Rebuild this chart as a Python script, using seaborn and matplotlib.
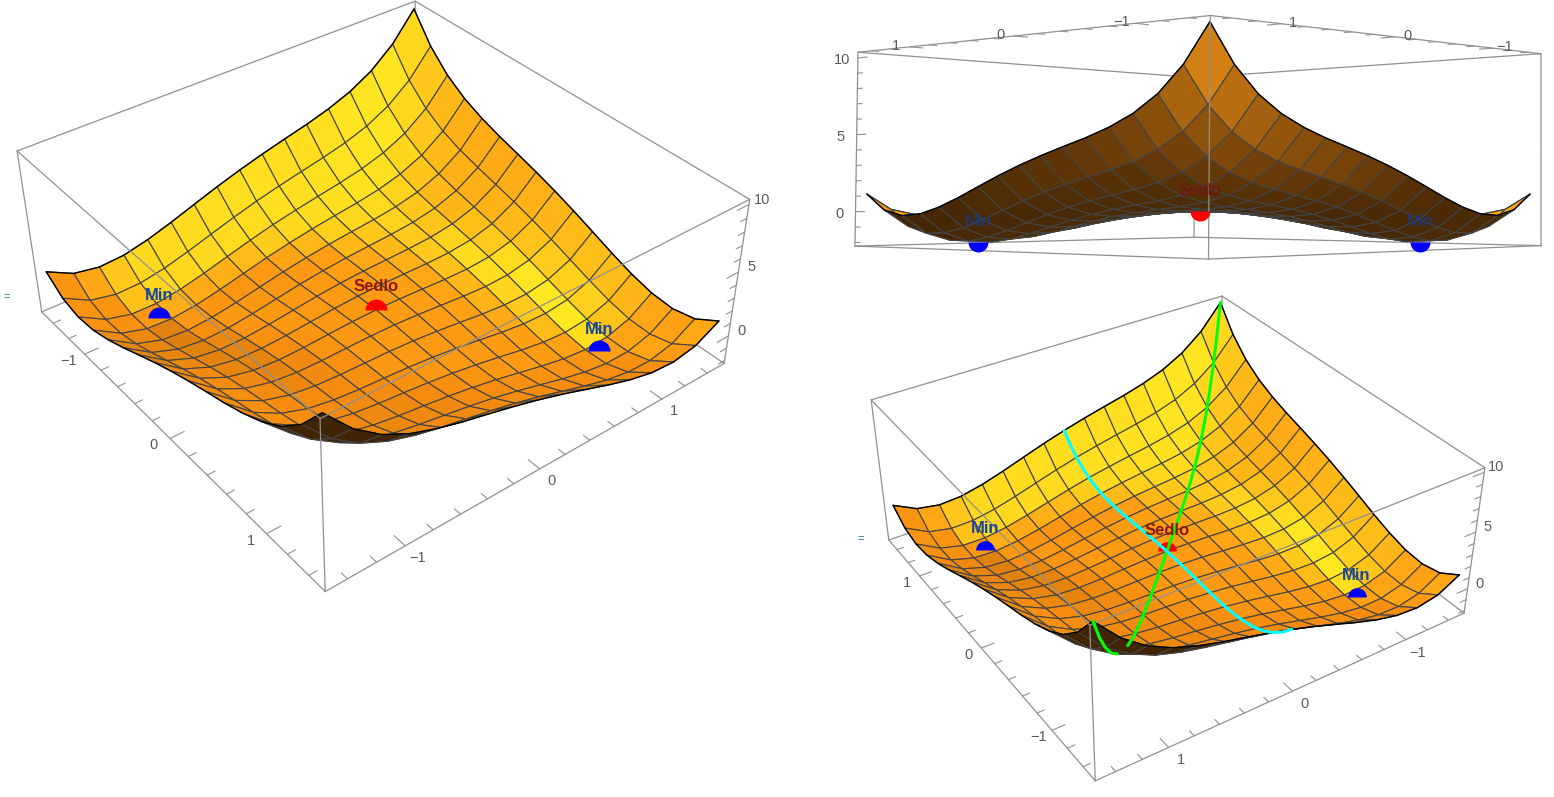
import numpy as np
import matplotlib
matplotlib.use("Agg")
import matplotlib.pyplot as plt
from matplotlib.markers import MarkerStyle
import seaborn as sns

sns.set_theme(style="white")
plt.rcParams['font.family'] = ['Liberation Sans', 'DejaVu Sans']

W, H = 1554, 797

# ---- data ----
grid_x = [-1.5, -1.3125, -1.125, -0.9375, -0.75, -0.5625, -0.375, -0.1875, 0.0,
          0.1875, 0.375, 0.5625, 0.75, 0.9375, 1.125, 1.3125, 1.5]
grid_y = list(grid_x)
surface_z = [
 [1.13,0.12,-0.23,-0.11,0.32,0.91,1.57,2.22,2.81,3.34,3.82,4.28,4.82,5.52,6.52,8.00,10.13],
 [0.12,-0.96,-1.37,-1.32,-0.97,-0.45,0.14,0.72,1.25,1.70,2.11,2.51,2.97,3.60,4.53,5.94,8.00],
 [-0.23,-1.37,-1.86,-1.88,-1.60,-1.15,-0.63,-0.12,0.34,0.72,1.06,1.39,1.78,2.34,3.20,4.53,6.52],
 [-0.11,-1.32,-1.88,-1.97,-1.76,-1.38,-0.93,-0.49,-0.11,0.21,0.48,0.73,1.05,1.55,2.34,3.60,5.52],
 [0.32,-0.97,-1.60,-1.76,-1.62,-1.31,-0.93,-0.56,-0.25,0.00,0.20,0.38,0.63,1.05,1.78,2.97,4.82],
 [0.91,-0.45,-1.15,-1.38,-1.31,-1.07,-0.76,-0.46,-0.22,-0.04,0.09,0.20,0.38,0.73,1.39,2.51,4.28],
 [1.57,0.14,-0.63,-0.93,-0.93,-0.76,-0.52,-0.30,-0.12,-0.01,0.04,0.09,0.20,0.48,1.06,2.11,3.82],
 [2.22,0.72,-0.12,-0.49,-0.56,-0.46,-0.30,-0.14,-0.03,0.00,-0.01,-0.04,0.00,0.21,0.72,1.70,3.34],
 [2.81,1.25,0.34,-0.11,-0.25,-0.22,-0.12,-0.03,0.00,-0.03,-0.12,-0.22,-0.25,-0.11,0.34,1.25,2.81],
 [3.34,1.70,0.72,0.21,0.00,-0.04,-0.01,0.00,-0.03,-0.14,-0.30,-0.46,-0.56,-0.49,-0.12,0.72,2.22],
 [3.82,2.11,1.06,0.48,0.20,0.09,0.04,-0.01,-0.12,-0.30,-0.52,-0.76,-0.93,-0.93,-0.63,0.14,1.57],
 [4.28,2.51,1.39,0.73,0.38,0.20,0.09,-0.04,-0.22,-0.46,-0.76,-1.07,-1.31,-1.38,-1.15,-0.45,0.91],
 [4.82,2.97,1.78,1.05,0.63,0.38,0.20,0.00,-0.25,-0.56,-0.93,-1.31,-1.62,-1.76,-1.60,-0.97,0.32],
 [5.52,3.60,2.34,1.55,1.05,0.73,0.48,0.21,-0.11,-0.49,-0.93,-1.38,-1.76,-1.97,-1.88,-1.32,-0.11],
 [6.52,4.53,3.20,2.34,1.78,1.39,1.06,0.72,0.34,-0.12,-0.63,-1.15,-1.60,-1.88,-1.86,-1.37,-0.23],
 [8.00,5.94,4.53,3.60,2.97,2.51,2.11,1.70,1.25,0.72,0.14,-0.45,-0.97,-1.32,-1.37,-0.96,0.12],
 [10.13,8.00,6.52,5.52,4.82,4.28,3.82,3.34,2.81,2.22,1.57,0.91,0.32,-0.11,-0.23,0.12,1.13],
]
point_names = ["Min", "Sedlo", "Min"]
point_x = [-1.0, 0.0, 1.0]
point_y = [-1.0, 0.0, 1.0]
point_z = [-2.0, 0.0, -2.0]
major_ticks = [-1, 0, 1]
minor_ticks = [-1.4, -1.2, -0.8, -0.6, -0.4, -0.2, 0.2, 0.4, 0.6, 0.8, 1.2, 1.4]
z_major = [0, 5, 10]
z_minor = [-2, -1, 1, 2, 3, 4, 6, 7, 8, 9]
# curves on the third surface
green_low_t = [-1.5, -1.4, -1.3, -1.2, -1.1]
green_low_z = [10.13, 7.68, 5.71, 4.15, 2.93]
green_t = [-0.9, -0.8, -0.7, -0.6, -0.5, -0.4, -0.3, -0.2, -0.1, 0.0, 0.1, 0.2, 0.3, 0.4, 0.5,
           0.6, 0.7, 0.8, 0.9, 1.0, 1.1, 1.2, 1.3, 1.4, 1.5]
green_z = [1.31, 0.82, 0.48, 0.26, 0.13, 0.05, 0.02, 0.0, 0.0, 0.0, 0.0, 0.0, 0.02, 0.05, 0.13,
           0.26, 0.48, 0.82, 1.31, 2.0, 2.93, 4.15, 5.71, 7.68, 10.13]
cyan_x = [1.5, 1.4, 1.3, 1.2, 1.1, 1.0, 0.9, 0.8, 0.7, 0.6, 0.5, 0.4, 0.3, 0.2, 0.1, 0.0,
          -0.1, -0.2, -0.3, -0.4, -0.5, -0.6, -0.7, -0.8, -0.9, -1.0, -1.1, -1.2, -1.3, -1.4, -1.5]
cyan_z = [2.81, 1.88, 1.17, 0.63, 0.25, 0.0, -0.15, -0.23, -0.25, -0.23, -0.19, -0.13, -0.08, -0.04, -0.01, 0.0,
          -0.01, -0.04, -0.08, -0.13, -0.19, -0.23, -0.25, -0.23, -0.15, 0.0, 0.25, 0.63, 1.17, 1.88, 2.81]

# ---- styling / layout ----
ZLO, ZHI = -2.24, 10.37
BOX = 1.55
GREY = "#909090"
TXT = "#5a5a5a"
top_cmap = sns.blend_palette(["#8a4f08", "#c9730c", "#f58c10", "#ff9d14", "#ffc31a", "#ffe822"], as_cmap=True)
under_cmap = sns.blend_palette(["#3d2203", "#5a3207", "#90540c", "#d07f14", "#e08a16"], as_cmap=True)

panels = [
    dict(rect=(0, 0, 790, 640), sgn=1,
         hi={(-1,-1):(17,151),(1,-1):(320,418),(1,1):(750,200),(-1,1):(415,1)},
         lo={(-1,-1):(42,312),(1,-1):(325,592),(1,1):(724,363)},
         tick_z=-1, zcorner=(1,1), zdir=(0,-1), ms=15.8, half='top',
         offA=(-16,-7), offB=(12,-12), offZ=(13,5),
         lab=(0,22), sed=(0,23)),
    dict(rect=(820, 0, 734, 270), sgn=-1,
         hi={(1,1):(857,52),(-1,1):(1210,16),(-1,-1):(1540,53),(1,-1):(1197,78)},
         lo={(1,1):(855,246),(-1,1):(1210,259),(-1,-1):(1541,246),(1,-1):(1193,237)},
         tick_z=1, zcorner=(1,1), zdir=(-1,0), ms=14.4, half='bottom',
         offA=(-14,1), offB=(12,1), offZ=(-16,-2),
         lab=(0,21), sed=(0,21)),
    dict(rect=(840, 285, 714, 512), sgn=-1,
         hi={(1,1):(871,400),(-1,1):(1090,625),(-1,-1):(1485,468),(1,-1):(1222,296)},
         lo={(1,1):(889,540),(-1,1):(1095,781),(-1,-1):(1464,613)},
         tick_z=-1, zcorner=(-1,-1), zdir=(0,1), ms=13.5, half='top',
         offA=(-13,-7), offB=(12,-13), offZ=(12,5),
         lab=(0,21), sed=(0,21)),
]

fig = plt.figure(figsize=(W/100, H/100), dpi=100, facecolor="white")
X, Y = np.meshgrid(grid_x, grid_y, indexing="ij")
Z = np.array(surface_z)


def fit_matrix(ax, p):
    pts3, pix = [], []
    for zv, dct in ((ZHI, p['hi']), (ZLO, p['lo'])):
        for (a, b), q in dct.items():
            pts3.append((BOX*a, BOX*b, zv))
            pix.append((q[0], H - q[1]))
    uv = ax.transData.inverted().transform(np.array(pix, float))
    rows = []
    for (x, y, z), (u, v) in zip(pts3, uv):
        rows.append([x, y, z, 1, 0, 0, 0, 0, -u*x, -u*y, -u*z, -u])
        rows.append([0, 0, 0, 0, x, y, z, 1, -v*x, -v*y, -v*z, -v])
    P = np.linalg.svd(np.array(rows))[2][-1].reshape(3, 4)
    P = P / (P[2] @ np.array([0, 0, 4, 1.0]))
    return np.array([P[0], P[1], [0, 0, 0, -1.0], P[2]])


def project(M, x, y, z):
    v = M @ np.array([x, y, z, 1.0])
    return v[0]/v[3], v[1]/v[3]


def facet_colors(M, sgn, show_under):
    P = np.stack([X, Y, Z, np.ones_like(X)], axis=-1)
    d1 = P[1:, 1:, :3] - P[:-1, :-1, :3]
    d2 = P[:-1, 1:, :3] - P[1:, :-1, :3]
    n = np.cross(d1, d2)
    n = n / np.linalg.norm(n, axis=-1, keepdims=True)
    q = P @ M.T
    uv = q[..., :2] / q[..., 3:4]
    e1 = uv[1:, 1:] - uv[:-1, :-1]
    e2 = uv[:-1, 1:] - uv[1:, :-1]
    area = e1[..., 0]*e2[..., 1] - e1[..., 1]*e2[..., 0]
    med = np.median(np.abs(area))
    rim = np.sqrt(np.clip(np.abs(area)/(0.5*med), 0, 1))
    na, nb, nz = sgn*n[..., 0], sgn*n[..., 1], n[..., 2]
    ca = sgn*(X[:-1, :-1] + X[1:, 1:])/2
    cb = sgn*(Y[:-1, :-1] + Y[1:, 1:])/2
    t = (0.58 + 0.293*na - 0.12*nb + 0.107*(1 - nz) - 0.6*np.clip(-nb - 0.6, 0, 1) + 0.03*(ca + cb)
         - 0.3*np.clip(na, 0, 1)*np.clip(nb + 0.3, 0, 1)
         + 0.17*np.clip(-na, 0, 1)*np.clip(-nb, 0, 1))
    t = t * (0.4 + 0.6*rim)
    top = top_cmap(np.clip(t, 0, 1))
    if show_under:
        zc = (Z[:-1, :-1] + Z[1:, 1:] + Z[1:, :-1] + Z[:-1, 1:])/4
        s = (0.10 + 0.075*np.clip(zc, 0, None))*(1 + 0.5*(-na - 0.5))
    else:
        s = np.full_like(t, 0.03)
    und = under_cmap(np.clip(s, 0, 1))
    return np.where((area > 0)[..., None], top, und)


for idx, p in enumerate(panels):
    l, t_, w, h = p['rect']
    ax = fig.add_axes([l/W, 1-(t_+h)/H, w/W, h/H], projection='3d', computed_zorder=False)
    ax.apply_aspect = lambda position=None: None
    ax.set_axis_off()
    ax.patch.set_visible(False)
    M = fit_matrix(ax, p)
    ax.get_proj = (lambda m: (lambda: m))(M)
    sgn = p['sgn']

    # box: edges touching the far corner go behind the surface
    far = (-sgn, sgn)
    corners = [(-1,-1),(1,-1),(1,1),(-1,1)]
    def edge(c1, z1, c2, z2):
        isfar = (c1 == far) or (c2 == far)
        ax.plot([BOX*c1[0], BOX*c2[0]], [BOX*c1[1], BOX*c2[1]], [z1, z2],
                color=GREY, lw=0.9, zorder=1 if isfar else 6)
    for i, c in enumerate(corners):
        d = corners[(i+1) % 4]
        edge(c, ZHI, d, ZHI)
        edge(c, ZLO, d, ZLO)
        edge(c, ZLO, c, ZHI)

    # surface
    surf = ax.plot_surface(X, Y, Z, rstride=1, cstride=1, facecolors=facet_colors(M, sgn, idx == 1),
                           shade=False, zorder=3, antialiased=True)
    surf.set_edgecolor("#444444")
    surf.set_linewidth(0.8)

    # outline of the surface
    below = idx == 1
    for xs, ys, zs in [(X[0], Y[0], Z[0]), (X[-1], Y[-1], Z[-1]),
                       (X[:, 0], Y[:, 0], Z[:, 0]), (X[:, -1], Y[:, -1], Z[:, -1])]:
        is_far = (xs[0] == xs[-1] and np.sign(xs[0]) == far[0]) or (ys[0] == ys[-1] and np.sign(ys[0]) == far[1])
        ax.plot(xs, ys, zs, color="black", lw=1.0, zorder=2 if (below and is_far) else 5)

    # ticks
    zb = ZHI if p['tick_z'] > 0 else ZLO
    a_edge_b = -BOX*sgn          # edge running left corner -> near corner
    b_edge_a = BOX*sgn           # edge running near corner -> right corner
    inward_b = -np.sign(a_edge_b)
    inward_a = -np.sign(b_edge_a)
    for v, ln in [(m, 0.1) for m in major_ticks] + [(m, 0.055) for m in minor_ticks]:
        ax.plot([v, v], [a_edge_b, a_edge_b + inward_b*ln], [zb, zb], color=GREY, lw=0.8, zorder=6)
        ax.plot([b_edge_a, b_edge_a + inward_a*ln], [v, v], [zb, zb], color=GREY, lw=0.8, zorder=6)
    for v in major_ticks:
        u_, v_ = project(M, v, a_edge_b, zb)
        ax.annotate(str(v).replace('-', '\u2212'), (u_, v_), xytext=p['offA'], textcoords='offset pixels',
                    ha='center', va='center', fontsize=10.5, color=TXT, annotation_clip=False, zorder=8)
        u_, v_ = project(M, b_edge_a, v, zb)
        ax.annotate(str(v).replace('-', '\u2212'), (u_, v_), xytext=p['offB'], textcoords='offset pixels',
                    ha='center', va='center', fontsize=10.5, color=TXT, annotation_clip=False, zorder=8)
    cz = p['zcorner']
    zd = p['zdir']
    for v, ln in [(m, 0.1) for m in z_major] + [(m, 0.055) for m in z_minor]:
        ax.plot([BOX*cz[0], BOX*cz[0] + zd[0]*ln], [BOX*cz[1], BOX*cz[1] + zd[1]*ln], [v, v],
                color=GREY, lw=0.8, zorder=6)
    for v in z_major:
        u_, v_ = project(M, BOX*cz[0], BOX*cz[1], v)
        ax.annotate(str(v), (u_, v_), xytext=p['offZ'], textcoords='offset pixels', ha='center', va='center',
                    fontsize=10.5, color=TXT, annotation_clip=False, zorder=8)

    # curves (third surface only)
    if idx == 2:
        gl = np.array(green_low_t)
        ax.plot(gl, -gl, green_low_z, color="#00ff00", lw=2.2, zorder=7)
        g = np.array(green_t)
        ax.plot(g, -g, green_z, color="#00ff00", lw=2.2, zorder=7)
        ax.plot(cyan_x, np.zeros(len(cyan_x)), cyan_z, color="#00ffff", lw=2.2, zorder=7)

    # special points
    for name, px, py, pz in zip(point_names, point_x, point_y, point_z):
        col = "#ff0000" if name == "Sedlo" else "#0000ff"
        if idx == 1:
            tcol = "#7a1010" if name == "Sedlo" else "#123c8c"
        else:
            tcol = "#8c1a10" if name == "Sedlo" else "#17479e"
        ax.plot([px], [py], [pz], linestyle='none',
                marker=MarkerStyle('o', fillstyle=p['half']), ms=p['ms'], mfc=col, mec='none', mew=0,
                zorder=6.5)
        u_, v_ = project(M, px, py, pz)
        off = p['sed'] if name == "Sedlo" else p['lab']
        ax.annotate(name, (u_, v_), xytext=off, textcoords='offset pixels', ha='center', va='center',
                    fontsize=12, fontweight='bold' if idx != 1 else 'normal', color=tcol,
                    annotation_clip=False, zorder=9)

fig.text(3/W, 1-297/H, "=", fontsize=8, color="#1a6f8f", ha='left', va='center')
fig.text(857/W, 1-539/H, "=", fontsize=8, color="#1a6f8f", ha='left', va='center')

fig.savefig("out.png", dpi=100, facecolor="white")
